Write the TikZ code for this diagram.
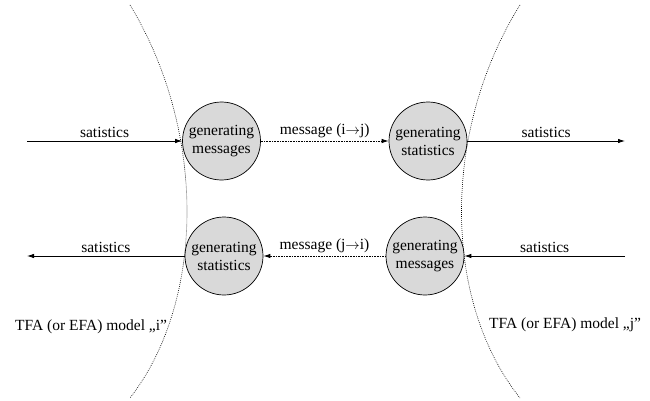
\documentclass[tikz,border=0pt]{standalone}
\usepackage{fontspec}
\setmainfont{Liberation Serif}
\usetikzlibrary{arrows.meta}
\definecolor{procgray}{HTML}{D9D9D9}
\newcommand{\flowto}{\ensuremath{\rightarrow}}

\begin{document}
\begin{tikzpicture}[x=1pt,y=-1pt,
  txt/.style={font=\fontsize{15.5}{18}\selectfont},
  proc/.style={circle, draw, fill=procgray, minimum size=78pt, inner sep=0pt,
    align=center, txt, line width=0.7pt},
  flow/.style={-{Latex[length=7pt,width=4.5pt]}, line width=0.8pt},
  msgflow/.style={-{Latex[length=7pt,width=4.5pt]}, line width=0.8pt,
    dash pattern=on 0.8pt off 0.8pt},
  lbl/.style={txt, above, inner sep=3pt},
  border/.style={line width=0.6pt, dash pattern=on 0.8pt off 1.2pt}]
  \useasboundingbox (0,0) rectangle (650,401);

  % model boundaries
  \draw[border] (130,5) .. controls (206,130) and (206,300) .. (130,398);
  \draw[border] (520,5) .. controls (442,130) and (442,300) .. (520,398);

  % processing circles
  \node[proc] (gm1) at (221.5,141) {generating\\messages};
  \node[proc] (gs1) at (428,141) {generating\\statistics};
  \node[proc] (gs2) at (224,256) {generating\\statistics};
  \node[proc] (gm2) at (425,256) {generating\\messages};

  % free ends of the statistics flows
  \coordinate (inI) at (27,141);
  \coordinate (outJ) at (625,141);
  \coordinate (outI) at (27,256);
  \coordinate (inJ) at (625,256);

  % flows
  \draw[flow] (inI) -- node[lbl] {satistics} (gm1.west |- inI);
  \draw[msgflow] (gm1.east |- inI) -- node[lbl] {message (i\flowto j)} (gs1.west |- inI);
  \draw[flow] (gs1.east |- outJ) -- node[lbl] {satistics} (outJ);

  \draw[flow] (gs2.west |- outI) -- node[lbl] {satistics} (outI);
  \draw[msgflow] (gm2.west |- outI) -- node[lbl] {message (j\flowto i)} (gs2.east |- outI);
  \draw[flow] (inJ) -- node[lbl] {satistics} (gm2.east |- inJ);

  % model names
  \node[txt, anchor=west, inner sep=0pt] (mi) at (15,327) {TFA (or EFA) model „i”};
  \node[txt, anchor=west, inner sep=0pt] (mj) at (489,325) {TFA (or EFA) model „j”};
\end{tikzpicture}
\end{document}
